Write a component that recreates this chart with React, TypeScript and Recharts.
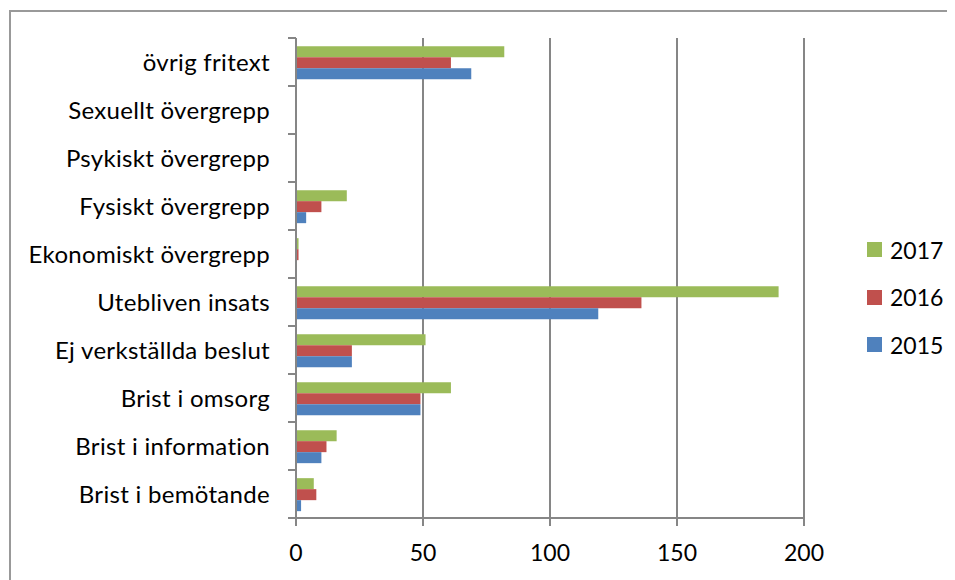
import { Bar, BarChart, CartesianGrid, Legend, XAxis, YAxis } from "recharts";
import { type JSX } from "react";

const categories: string[] = [
  "övrig fritext",
  "Sexuellt övergrepp",
  "Psykiskt övergrepp",
  "Fysiskt övergrepp",
  "Ekonomiskt övergrepp",
  "Utebliven insats",
  "Ej verkställda beslut",
  "Brist i omsorg",
  "Brist i information",
  "Brist i bemötande",
];
const values2015: number[] = [69, 0, 0, 4, 0, 119, 22, 49, 10, 2];
const values2016: number[] = [61, 0, 0, 10, 1, 136, 22, 49, 12, 8];
const values2017: number[] = [82, 0, 0, 20, 1, 190, 51, 61, 16, 7];
const xTicks: number[] = [0, 50, 100, 150, 200];

const data = categories.map((name, i) => ({
  name,
  y2015: values2015[i],
  y2016: values2016[i],
  y2017: values2017[i],
}));

const FONT = "Lato, 'Open Sans', sans-serif";
const GRAY = "#868686";
const Y_TICK_SIZE = 8;
const Y_TICK_MARGIN = 18;

const CategoryTick = (props: any): JSX.Element => {
  const { x, y, payload, index } = props;
  const half = payload?.offset || 24;
  const axisX = x + Y_TICK_SIZE + Y_TICK_MARGIN;
  return (
    <g>
      {index === 0 && (
        <line x1={axisX - Y_TICK_SIZE} x2={axisX} y1={y - half} y2={y - half} stroke={GRAY} strokeWidth={2} />
      )}
      <line x1={axisX - Y_TICK_SIZE} x2={axisX} y1={y + half} y2={y + half} stroke={GRAY} strokeWidth={2} />
      <text
        x={x}
        y={y}
        dy="0.355em"
        textAnchor="end"
        fill="#000"
        fontSize={24}
        letterSpacing={0.3}
        fontFamily={FONT}
      >
        {payload.value}
      </text>
    </g>
  );
};

// legend reads top-down 2017, 2016, 2015 like the bars
const renderLegend = (props: any): JSX.Element => {
  const items = [...(props.payload || [])].sort((a: any, b: any) =>
    String(b.value).localeCompare(String(a.value))
  );
  return (
    <div style={{ fontFamily: FONT, fontSize: 23, color: "#000" }}>
      {items.map((entry: any) => (
        <div key={entry.value} style={{ display: "flex", alignItems: "center", height: 47.5 }}>
          <span style={{ width: 15, height: 15, background: entry.color, marginRight: 8, display: "inline-block" }} />
          <span>{entry.value}</span>
        </div>
      ))}
    </div>
  );
};

const App = (): JSX.Element => {
  return (
    <div style={{ position: "relative", width: 947, height: 572, overflow: "hidden" }}>
      <div
        style={{
          position: "absolute",
          left: 1,
          top: 2,
          width: 1000,
          height: 700,
          border: "2px solid #999999",
          boxSizing: "border-box",
        }}
      />
      <BarChart
        width={947}
        height={572}
        data={data}
        layout="vertical"
        margin={{ top: 30, right: 151, bottom: 0, left: 0 }}
        barCategoryGap="17%"
        barGap={0}
      >
        <CartesianGrid horizontal={false} vertical={true} stroke={GRAY} strokeWidth={2} />
        <XAxis
          type="number"
          domain={[0, 200]}
          ticks={xTicks}
          height={62}
          axisLine={{ stroke: GRAY, strokeWidth: 2 }}
          tickLine={{ stroke: GRAY, strokeWidth: 2 }}
          tickSize={8}
          tickMargin={19}
          tick={{ fill: "#000", fontSize: 23, fontFamily: FONT }}
        />
        <YAxis
          type="category"
          dataKey="name"
          width={288}
          axisLine={{ stroke: GRAY, strokeWidth: 2 }}
          tickLine={false}
          tickSize={Y_TICK_SIZE}
          tickMargin={Y_TICK_MARGIN}
          tick={<CategoryTick />}
          interval={0}
        />
        <Bar dataKey="y2017" name="2017" fill="#9BBB59" isAnimationActive={false} />
        <Bar dataKey="y2016" name="2016" fill="#C0504D" isAnimationActive={false} />
        <Bar dataKey="y2015" name="2015" fill="#4F81BD" isAnimationActive={false} />
        <Legend
          layout="vertical"
          align="center"
          verticalAlign="middle"
          content={renderLegend}
          wrapperStyle={{ position: "absolute", left: 859, top: 218, width: 90 }}
        />
      </BarChart>
    </div>
  );
};

export default App;
